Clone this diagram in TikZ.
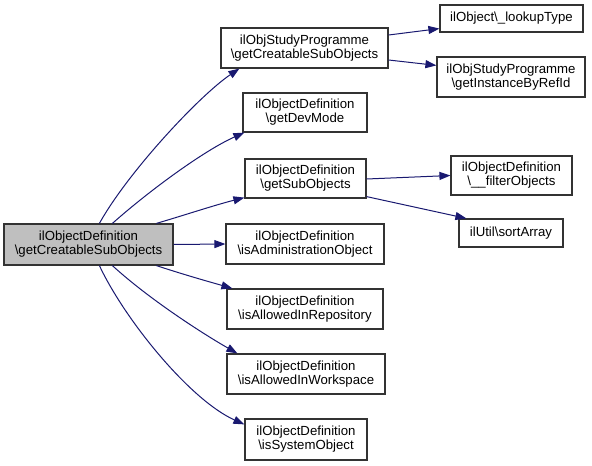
\documentclass[tikz,border=0pt]{standalone}
\usepackage{fontspec}
\setmainfont{Liberation Sans}
\usetikzlibrary{arrows.meta}
\definecolor{edgeblue}{HTML}{191970}
\definecolor{mainfill}{HTML}{BFBFBF}
\definecolor{boxline}{HTML}{333333}
\begin{document}
\begin{tikzpicture}[x=1pt,y=-1pt,
  box/.style={draw=boxline,line width=1.2pt,fill=white,inner sep=0pt,align=center,
    font=\fontsize{13.2}{14}\selectfont},
  edge/.style={draw=edgeblue,line width=1pt,-{Triangle[length=11pt,width=8pt]}}]
\useasboundingbox (0,0) rectangle (592,466);
\node[box,fill=mainfill,minimum width=169pt,minimum height=41pt] (main) at (88.5,244.5) {ilObjectDefinition\\\textbackslash getCreatableSubObjects};
\node[box,minimum width=167pt,minimum height=40pt] (A) at (304.5,48) {ilObjStudyProgramme\\\textbackslash getCreatableSubObjects};
\node[box,minimum width=143pt,minimum height=27pt] (lookup) at (511.5,18.5) {ilObject\textbackslash\_lookupType};
\node[box,minimum width=148pt,minimum height=40pt] (inst) at (511,77) {ilObjStudyProgramme\\\textbackslash getInstanceByRefId};
\node[box,minimum width=124pt,minimum height=39pt] (dev) at (305,112.5) {ilObjectDefinition\\\textbackslash getDevMode};
\node[box,minimum width=121pt,minimum height=39pt] (sub) at (305.5,178.5) {ilObjectDefinition\\\textbackslash getSubObjects};
\node[box,minimum width=121pt,minimum height=39pt] (filter) at (511.5,175.5) {ilObjectDefinition\\\textbackslash\_\_filterObjects};
\node[box,minimum width=104pt,minimum height=28pt] (sort) at (511,233) {ilUtil\textbackslash sortArray};
\node[box,minimum width=158pt,minimum height=40pt] (admin) at (305,244) {ilObjectDefinition\\\textbackslash isAdministrationObject};
\node[box,minimum width=156pt,minimum height=40pt] (repo) at (305,309) {ilObjectDefinition\\\textbackslash isAllowedInRepository};
\node[box,minimum width=158pt,minimum height=40pt] (ws) at (306,374) {ilObjectDefinition\\\textbackslash isAllowedInWorkspace};
\node[box,minimum width=122pt,minimum height=41pt] (sys) at (306,439.5) {ilObjectDefinition\\\textbackslash isSystemObject};

\draw[edge] ([xshift=96pt]main.north west) .. controls (128,172) and (200,95) .. ([xshift=19pt]A.south west);
\draw[edge] ([xshift=109pt]main.north west) .. controls (150,190) and (205,150) .. ([xshift=2pt]dev.south west);
\draw[edge] ([xshift=153pt]main.north west) .. controls (185,215) and (215,205) .. ([yshift=1pt]sub.south west);
\draw[edge] (main.east) -- (admin.west);
\draw[edge] ([xshift=153pt]main.south west) .. controls (185,275) and (210,282) .. ([xshift=6pt]repo.north west);
\draw[edge] ([xshift=109pt]main.south west) .. controls (150,300) and (205,335) .. ([xshift=11pt]ws.north west);
\draw[edge] ([xshift=96pt]main.south west) .. controls (125,320) and (190,400) .. ([yshift=-6pt]sys.north west);
\draw[edge] ([yshift=13pt]A.east) -- ([yshift=4pt]lookup.south west);
\draw[edge] ([yshift=-12pt]A.east) -- ([yshift=-9pt]inst.north west);
\draw[edge] ([yshift=-0.5pt]sub.east) -- (filter.west);
\draw[edge] ([yshift=2pt]sub.south east) -- ([xshift=8pt]sort.north west);
\end{tikzpicture}
\end{document}
